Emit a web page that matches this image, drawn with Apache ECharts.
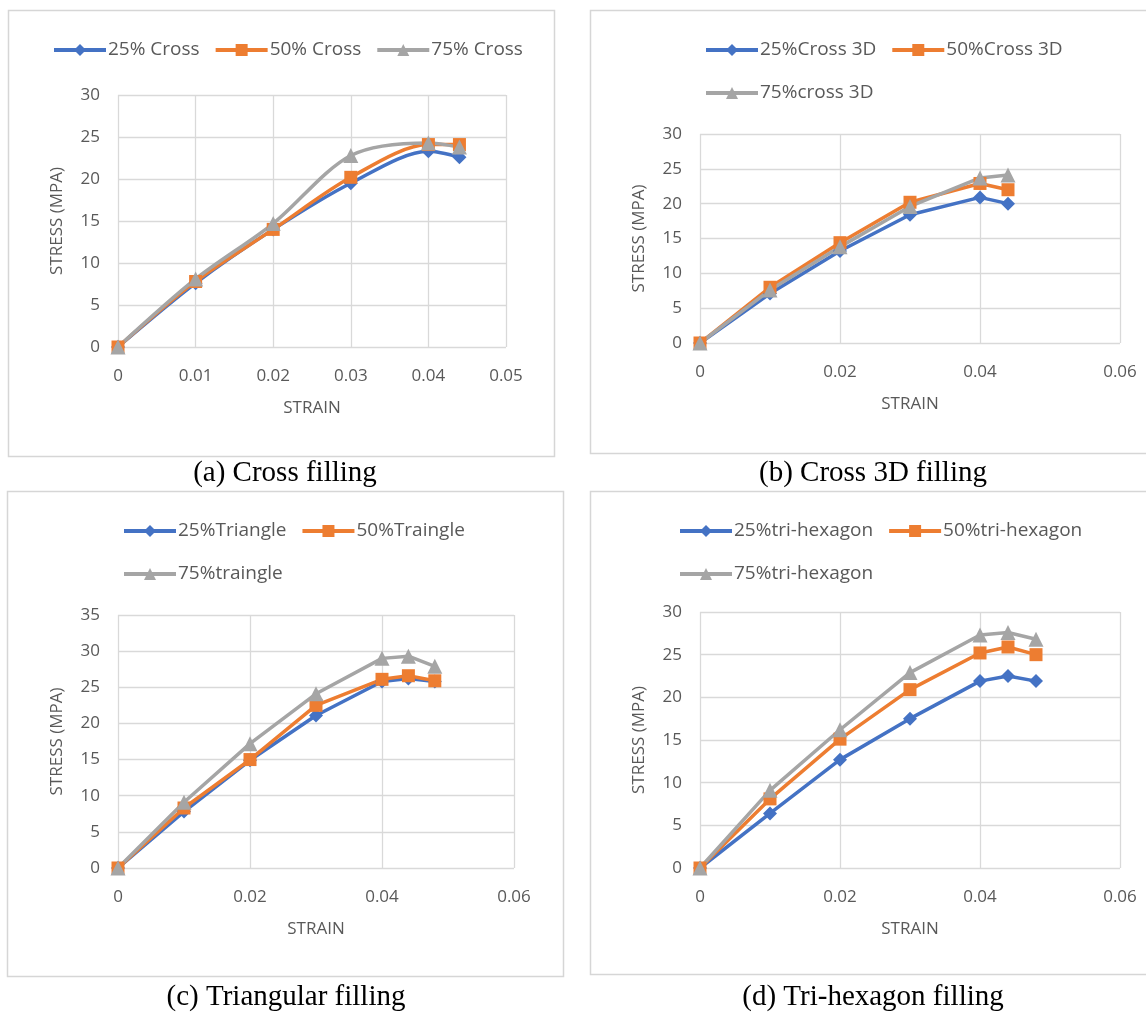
<!DOCTYPE html>
<html>
<head>
<meta charset="utf-8">
<script src="https://cdn.jsdelivr.net/npm/echarts@6/dist/echarts.min.js"></script>
<style>
html,body{margin:0;padding:0;background:#fff;}
#c{width:1146px;height:1012px;}
</style>
</head>
<body>
<div id="c"></div>
<script>
// ---------- DATA ----------
const strainA = [0, 0.01, 0.02, 0.03, 0.04, 0.044];
const crossA25 = [0, 7.6, 14.0, 19.5, 23.3, 22.6];
const crossA50 = [0, 7.8, 14.0, 20.2, 24.1, 24.1];
const crossA75 = [0, 8.1, 14.7, 22.8, 24.3, 23.8];

const strainB = [0, 0.01, 0.02, 0.03, 0.04, 0.044];
const cross3D25 = [0, 7.1, 13.2, 18.4, 20.9, 20.0];
const cross3D50 = [0, 8.0, 14.4, 20.2, 22.9, 22.0];
const cross3D75 = [0, 7.6, 13.8, 19.6, 23.7, 24.1];

const strainC = [0, 0.01, 0.02, 0.03, 0.04, 0.044, 0.048];
const tri25 = [0, 7.8, 14.9, 21.1, 25.8, 26.2, 25.8];
const tri50 = [0, 8.3, 15.0, 22.5, 26.1, 26.6, 25.9];
const tri75 = [0, 9.1, 17.2, 24.1, 29.0, 29.3, 27.9];

const strainD = [0, 0.01, 0.02, 0.03, 0.04, 0.044, 0.048];
const hex25 = [0, 6.4, 12.7, 17.5, 21.9, 22.5, 21.9];
const hex50 = [0, 8.1, 15.1, 20.9, 25.2, 25.9, 25.0];
const hex75 = [0, 9.1, 16.2, 22.9, 27.3, 27.6, 26.8];

const namesA = ['25% Cross', '50% Cross', '75% Cross'];
const namesB = ['25%Cross 3D', '50%Cross 3D', '75%cross 3D'];
const namesC = ['25%Triangle', '50%Traingle', '75%traingle'];
const namesD = ['25%tri-hexagon', '50%tri-hexagon', '75%tri-hexagon'];

const captions = ['(a) Cross filling', '(b) Cross 3D filling', '(c) Triangular filling', '(d) Tri-hexagon filling'];
const xTitle = 'STRAIN';
const yTitle = 'STRESS (MPA)';

// ---------- STYLE ----------
const COLORS = ['#4472C4', '#ED7D31', '#A5A5A5'];
const SYMBOLS = ['diamond', 'rect', 'triangle'];
const SYMSIZE = [14, 13, 15];
const TXT = '#595959';
const GRIDC = '#D9D9D9';
const FONT = 'Open Sans';

function zip(xs, ys) { return xs.map((x, i) => [x, ys[i]]); }

const panels = [
  { xs: strainA, ys: [crossA25, crossA50, crossA75], names: namesA, xmax: 0.05, xint: 0.01, ymax: 30, smooth: true,
    grid: { left: 118, top: 95, width: 388, height: 252 } },
  { xs: strainB, ys: [cross3D25, cross3D50, cross3D75], names: namesB, xmax: 0.06, xint: 0.02, ymax: 30, smooth: false,
    grid: { left: 700, top: 134, width: 420, height: 209 } },
  { xs: strainC, ys: [tri25, tri50, tri75], names: namesC, xmax: 0.06, xint: 0.02, ymax: 35, smooth: false,
    grid: { left: 118, top: 615, width: 396, height: 253 } },
  { xs: strainD, ys: [hex25, hex50, hex75], names: namesD, xmax: 0.06, xint: 0.02, ymax: 30, smooth: false,
    grid: { left: 700, top: 612, width: 420, height: 256 } }
];

const grids = [], xAxes = [], yAxes = [], series = [];
panels.forEach((p, gi) => {
  grids.push(Object.assign({ containLabel: false }, p.grid));
  xAxes.push({
    type: 'value', gridIndex: gi, min: 0, max: p.xmax, interval: p.xint,
    name: xTitle, nameLocation: 'middle', nameGap: 53,
    nameTextStyle: { color: TXT, fontFamily: FONT, fontSize: 17 },
    axisLine: { show: false }, axisTick: { show: false },
    axisLabel: { color: TXT, fontFamily: FONT, fontSize: 17, margin: 21, formatter: v => String(+v.toFixed(3)) },
    splitLine: { show: true, lineStyle: { color: GRIDC, width: 1.3 } }
  });
  yAxes.push({
    type: 'value', gridIndex: gi, min: 0, max: p.ymax, interval: 5,
    name: yTitle, nameLocation: 'middle', nameGap: 52,
    nameTextStyle: { color: TXT, fontFamily: FONT, fontSize: 17 },
    axisLine: { show: false }, axisTick: { show: false },
    axisLabel: { color: TXT, fontFamily: FONT, fontSize: 17, margin: 18 },
    splitLine: { show: true, lineStyle: { color: GRIDC, width: 1.3 } }
  });
  p.ys.forEach((ys, si) => {
    series.push({
      type: 'line', name: p.names[si], xAxisIndex: gi, yAxisIndex: gi,
      data: zip(p.xs, ys), smooth: p.smooth ? 0.3 : false,
      symbol: SYMBOLS[si], symbolSize: SYMSIZE[si], showAllSymbol: true,
      lineStyle: { color: COLORS[si], width: 3.5 },
      itemStyle: { color: COLORS[si] },
      emphasis: { disabled: true }
    });
  });
});

function legend(names, left, cy) {
  return {
    data: names, left: left, top: cy - 11, orient: 'horizontal',
    itemWidth: 52, itemHeight: 15, itemGap: 14,
    lineStyle: { width: 4 },
    textStyle: { color: TXT, fontFamily: FONT, fontSize: 19, lineHeight: 22, padding: [0, 0, 0, -3] },
    selectedMode: false
  };
}

const legends = [
  legend(namesA, 47, 45),
  legend([namesB[0], namesB[1]], 699, 45),
  legend([namesB[2]], 699, 88),
  legend([namesC[0], namesC[1]], 117, 526),
  legend([namesC[2]], 117, 569),
  legend([namesD[0], namesD[1]], 673, 526),
  legend([namesD[2]], 673, 569)
];

const frames = [
  { x: 8, y: 10, w: 546, h: 446 },
  { x: 590, y: 10, w: 600, h: 443 },
  { x: 7, y: 491, w: 556, h: 485 },
  { x: 590, y: 491, w: 600, h: 483 }
];
const capPos = [[285, 473], [873, 473], [286, 997], [873, 997]];

const graphics = [];
frames.forEach(f => graphics.push({
  type: 'rect', shape: { x: f.x + 0.5, y: f.y + 0.5, width: f.w, height: f.h }, z: -10,
  style: { fill: 'none', stroke: '#D6D6D6', lineWidth: 1.5 }, silent: true
}));
captions.forEach((t, i) => graphics.push({
  type: 'text', x: capPos[i][0], y: capPos[i][1], silent: true,
  style: { text: t, fill: '#000', font: '29px "Liberation Serif"', textAlign: 'center', textVerticalAlign: 'middle' }
}));

const chart = echarts.init(document.getElementById('c'), null, { renderer: 'canvas' });
chart.setOption({
  animation: false,
  backgroundColor: '#fff',
  grid: grids, xAxis: xAxes, yAxis: yAxes, series: series,
  legend: legends,
  graphic: graphics
});
</script>
</body>
</html>
